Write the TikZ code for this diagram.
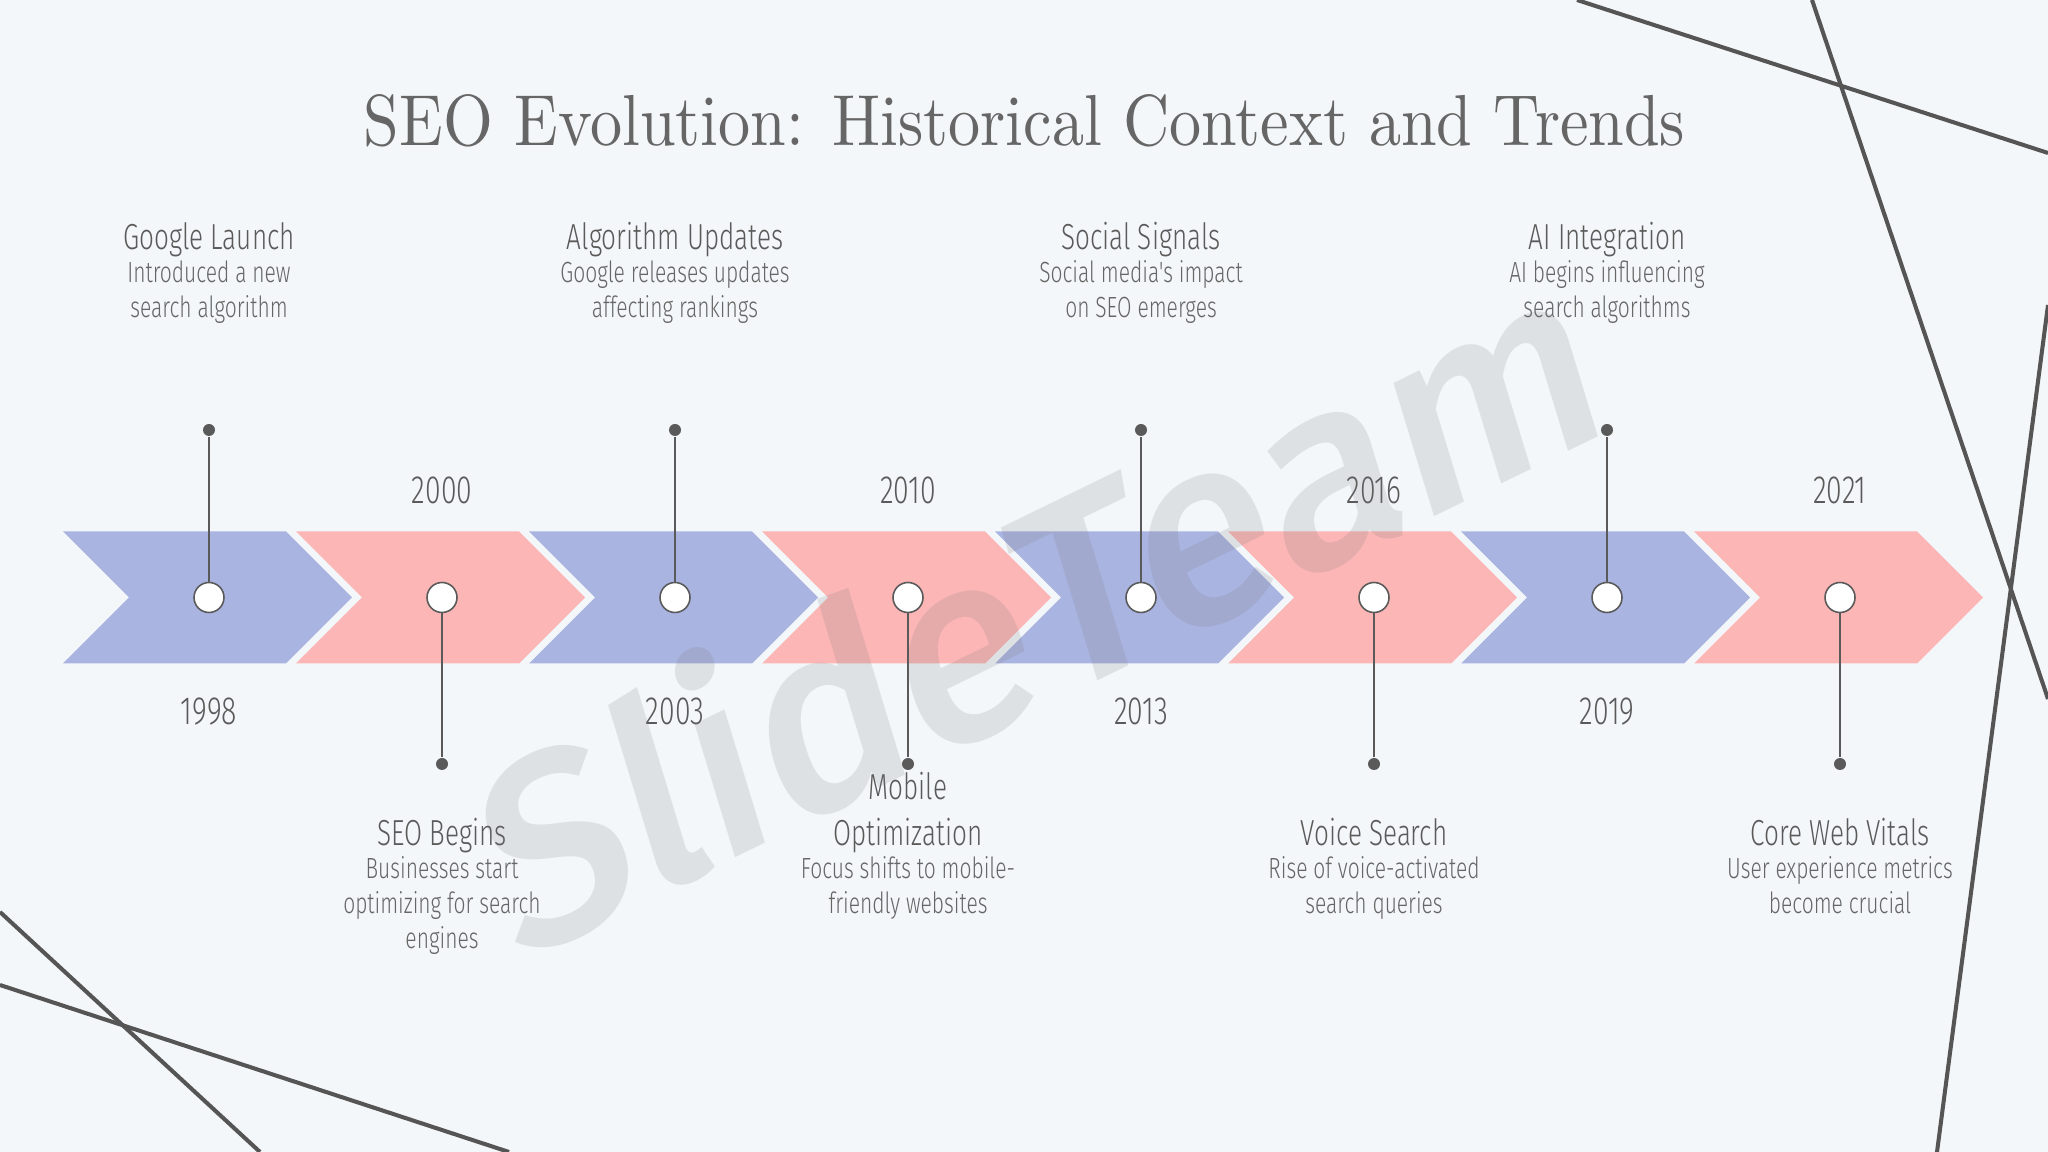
\documentclass[tikz,border=0pt]{standalone}
\usepackage{fontspec}
\usepackage{graphicx}
\newfontfamily\cf[FakeStretch=0.72]{Fira Sans Light}
\newfontfamily\wmf[FakeSlant=0.16]{Fira Sans Medium}
\definecolor{bgc}{HTML}{F3F7F9}
\definecolor{cblue}{HTML}{AAB4E1}
\definecolor{cpink}{HTML}{FCB6B6}
\definecolor{ink}{HTML}{5A5A5A}
\definecolor{inkl}{HTML}{666666}
\definecolor{deco}{HTML}{555555}
\begin{document}
\begin{tikzpicture}[x=0.1mm,y=-0.1mm,
  circ/.style={circle,draw=ink,fill=white,line width=0.45pt,minimum size=3mm,inner sep=0pt},
  dotnode/.style={circle,fill=ink,minimum size=1.2mm,inner sep=0pt},
  stem/.style={draw=ink,line width=0.45pt},
  yr/.style={anchor=base,inner sep=0pt,text=ink,font=\cf\fontsize{11.2}{13}\selectfont},
  lbl/.style={anchor=base,inner sep=0pt,text=ink,font=\cf\fontsize{10.3}{12}\selectfont},
  dsc/.style={anchor=base,inner sep=0pt,text=inkl,font=\cf\fontsize{8.3}{10}\selectfont},
  decoline/.style={draw=deco,line width=1.15pt}]
\useasboundingbox (0,0) rectangle (2048,1152);
\fill[bgc] (0,0) rectangle (2048,1152);

% chevrons
\foreach \c/\col in {209/cblue,442/cpink,675/cblue,908/cpink,1141/cblue,1374/cpink,1607/cblue,1840/cpink}{
  \fill[\col] (\c-146,531.5) -- (\c+77,531.5) -- (\c+143,597.5) -- (\c+77,663.5) -- (\c-146,663.5) -- (\c-80,597.5) -- cycle;
}

% title
\node[anchor=base,inner sep=0pt,text=inkl] (title) at (1024.5,146)
  {\resizebox{375.9pt}{14.5pt}{\rmfamily SEO Evolution: Historical Context and Trends}};

% circles and dots
\node[circ] (c1) at (209,597.5) {};
\node[circ] (c2) at (442,597.5) {};
\node[circ] (c3) at (675,597.5) {};
\node[circ] (c4) at (908,597.5) {};
\node[circ] (c5) at (1141,597.5) {};
\node[circ] (c6) at (1374,597.5) {};
\node[circ] (c7) at (1607,597.5) {};
\node[circ] (c8) at (1840,597.5) {};
\node[dotnode] (d1) at (209,430) {};
\node[dotnode] (d2) at (442,764) {};
\node[dotnode] (d3) at (675,430) {};
\node[dotnode] (d4) at (908,764) {};
\node[dotnode] (d5) at (1141,430) {};
\node[dotnode] (d6) at (1374,764) {};
\node[dotnode] (d7) at (1607,430) {};
\node[dotnode] (d8) at (1840,764) {};
\foreach \i in {1,...,8}{\draw[stem] (c\i) -- (d\i);}

% years
\node[yr] (y1) at (209,725) {1998};
\node[yr] (y2) at (442,503.5) {2000};
\node[yr] (y3) at (675,725) {2003};
\node[yr] (y4) at (908,503.5) {2010};
\node[yr] (y5) at (1141,725) {2013};
\node[yr] (y6) at (1374,503.5) {2016};
\node[yr] (y7) at (1607,725) {2019};
\node[yr] (y8) at (1840,503.5) {2021};

% event 1
\node[lbl] (t1) at (209,250) {Google Launch};
\node[dsc] (a1) at (209,282.5) {Introduced a new};
\node[dsc] (b1) at (209,317.5) {search algorithm};
% event 2
\node[lbl] (t2) at (442,846) {SEO Begins};
\node[dsc] (a2) at (442,878.5) {Businesses start};
\node[dsc] (b2) at (442,913.5) {optimizing for search};
\node[dsc] (e2) at (442,948.5) {engines};
% event 3
\node[lbl] (t3) at (675,250) {Algorithm Updates};
\node[dsc] (a3) at (675,282.5) {Google releases updates};
\node[dsc] (b3) at (675,317.5) {affecting rankings};
% event 4
\node[lbl] (s4) at (908,800) {Mobile};
\node[lbl] (t4) at (908,846) {Optimization};
\node[dsc] (a4) at (908,878.5) {Focus shifts to mobile-};
\node[dsc] (b4) at (908,913.5) {friendly websites};
% event 5
\node[lbl] (t5) at (1141,250) {Social Signals};
\node[dsc] (a5) at (1141,282.5) {Social media's impact};
\node[dsc] (b5) at (1141,317.5) {on SEO emerges};
% event 6
\node[lbl] (t6) at (1374,846) {Voice Search};
\node[dsc] (a6) at (1374,878.5) {Rise of voice-activated};
\node[dsc] (b6) at (1374,913.5) {search queries};
% event 7
\node[lbl] (t7) at (1607,250) {AI Integration};
\node[dsc] (a7) at (1607,282.5) {AI begins influencing};
\node[dsc] (b7) at (1607,317.5) {search algorithms};
% event 8
\node[lbl] (t8) at (1840,846) {Core Web Vitals};
\node[dsc] (a8) at (1840,878.5) {User experience metrics};
\node[dsc] (b8) at (1840,913.5) {become crucial};

% decorative lines
\draw[decoline] (1577,0) -- (2048,153);
\draw[decoline] (1812,0) -- (2048,699);
\draw[decoline] (2048,305) -- (1937,1152);
\draw[decoline] (0,912) -- (260,1152);
\draw[decoline] (0,985) -- (509,1152);

% watermark
\node[rotate=26,text=black!55,opacity=0.16,inner sep=0pt,font=\wmf\fontsize{74}{78}\selectfont] (wm) at (1022,605) {SlideTeam};
\end{tikzpicture}
\end{document}
